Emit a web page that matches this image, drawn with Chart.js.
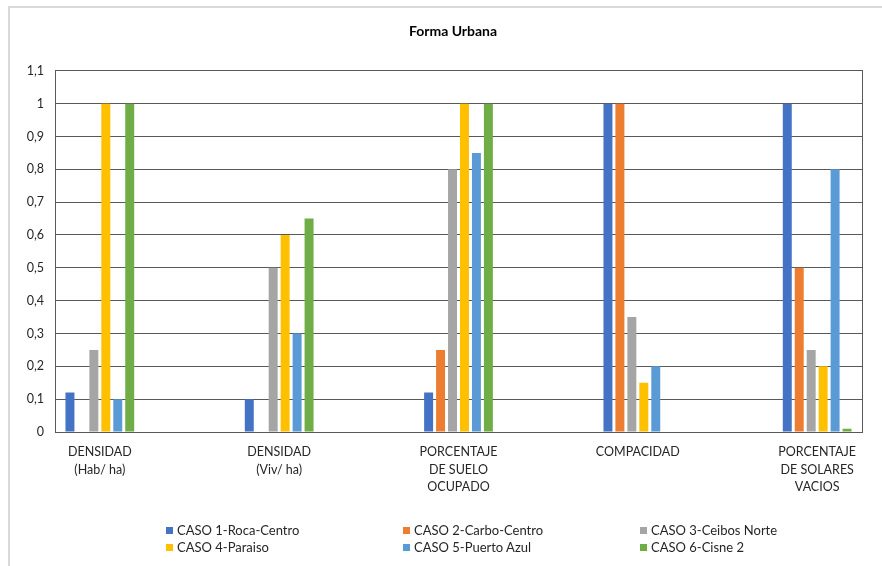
<!DOCTYPE html>
<html>
<head>
<meta charset="utf-8">
<script src="https://cdn.jsdelivr.net/npm/chart.js@4.4.1/dist/chart.umd.min.js"></script>
<style>
  html, body { margin: 0; padding: 0; background: #fff; overflow: hidden; width: 882px; height: 566px; }
  #frame { position: absolute; left: 8px; top: 6px; width: 1000px; height: 1000px;
           border-left: 2px solid #d9d9d9; border-top: 2px solid #d9d9d9; }
  #wrap { position: absolute; left: 0; top: 0; width: 906px; height: 566px; }
  #legend { position: absolute; left: 0; top: 0; font-family: Lato, sans-serif; font-size: 13px; color: #262626; }
  .item { position: absolute; white-space: nowrap; line-height: 14px; }
  .item span.box { position: absolute; left: -11px; top: 4px; width: 7px; height: 7px; }
</style>
</head>
<body>
<div id="frame"></div>
<div id="wrap"><canvas id="formaChart" width="906" height="566"></canvas></div>
<div id="legend"></div>
<script>
let categories = [
  ['DENSIDAD', '(Hab/ ha)'],
  ['DENSIDAD', '(Viv/ ha)'],
  ['PORCENTAJE', 'DE SUELO', 'OCUPADO'],
  ['COMPACIDAD'],
  ['PORCENTAJE', 'DE SOLARES', 'VACIOS']
];

let seriesNames = ['CASO 1-Roca-Centro', 'CASO 2-Carbo-Centro', 'CASO 3-Ceibos Norte',
                   'CASO 4-Paraiso', 'CASO 5-Puerto Azul', 'CASO 6-Cisne 2'];
let seriesColors = ['#4472C4', '#ED7D31', '#A5A5A5', '#FFC000', '#5B9BD5', '#70AD47'];

let caso1 = [0.12, 0.10, 0.12, 1.00, 1.00];
let caso2 = [0, 0, 0.25, 1.00, 0.50];
let caso3 = [0.25, 0.50, 0.80, 0.35, 0.25];
let caso4 = [1.00, 0.60, 1.00, 0.15, 0.20];
let caso5 = [0.10, 0.30, 0.85, 0.20, 0.80];
let caso6 = [1.00, 0.65, 1.00, 0, 0.01];

let yTicks = ['0', '0,1', '0,2', '0,3', '0,4', '0,5', '0,6', '0,7', '0,8', '0,9', '1', '1,1'];

let allSeries = [caso1, caso2, caso3, caso4, caso5, caso6];

let datasets = allSeries.map((vals, i) => ({
  label: seriesNames[i],
  data: vals.map((v, k) => ({ x: k, y: v })),
  backgroundColor: seriesColors[i],
  categoryPercentage: 0.4,
  barPercentage: 0.75,
}));

let ctx = document.getElementById('formaChart').getContext('2d');

let formaChart = new Chart(ctx, {
  type: 'bar',
  data: { datasets: datasets },
  options: {
    responsive: false,
    animation: false,
    layout: { padding: 0 },
    plugins: {
      title: {
        display: true,
        text: 'Forma Urbana',
        color: '#000',
        font: { family: 'Lato', size: 14, weight: 'bold', lineHeight: 1.2 },
        padding: { top: 23, bottom: 31 },
      },
      legend: { display: false },
      tooltip: { enabled: false },
    },
    scales: {
      x: {
        type: 'linear',
        offset: false,
        min: -0.25,
        max: 4.25,
        grid: { display: false, drawTicks: false },
        border: { display: false },
        ticks: {
          stepSize: 1,
          includeBounds: false,
          autoSkip: false,
          maxRotation: 0,
          padding: 11,
          color: '#262626',
          font: { family: 'Lato', size: 12.5, lineHeight: 1.42 },
          callback: (v) => categories[v] || '',
        },
        afterFit: (scale) => { scale.height = 134; },
      },
      y: {
        min: 0,
        max: 1.1,
        grid: { color: '#595959', lineWidth: 1, drawTicks: false },
        border: { display: true, color: '#595959', width: 1 },
        ticks: {
          stepSize: 0.1,
          padding: 11,
          color: '#262626',
          font: { family: 'Lato', size: 12.5 },
          callback: (v) => yTicks[Math.round(v * 10)],
        },
        afterFit: (scale) => { scale.width = 55; },
      },
      yRight: {
        position: 'right',
        grid: { display: false, drawTicks: false },
        border: { display: true, color: '#595959', width: 1 },
        ticks: { display: false },
        afterFit: (scale) => { scale.width = 44; },
      },
    },
  }
});

// legend in three columns, two rows
let legendCols = [177, 414, 651];
let legendRows = [523, 540];
let legendEl = document.getElementById('legend');
seriesNames.forEach((name, i) => {
  let item = document.createElement('div');
  item.className = 'item';
  item.style.left = legendCols[i % 3] + 'px';
  item.style.top = legendRows[Math.floor(i / 3)] + 'px';
  let box = document.createElement('span');
  box.className = 'box';
  box.style.background = seriesColors[i];
  item.appendChild(box);
  item.appendChild(document.createTextNode(name));
  legendEl.appendChild(item);
});
</script>
</body>
</html>
